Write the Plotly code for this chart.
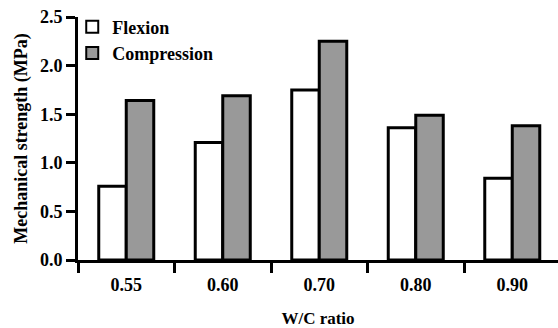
import plotly.graph_objects as go

categories = ["0.55", "0.60", "0.70", "0.80", "0.90"]
flexion = [0.76, 1.21, 1.75, 1.36, 0.84]
compression = [1.64, 1.69, 2.25, 1.49, 1.38]
y_ticks = [0.0, 0.5, 1.0, 1.5, 2.0, 2.5]
y_tick_labels = ["0.0", "0.5", "1.0", "1.5", "2.0", "2.5"]

FONT = "Liberation Serif"

fig = go.Figure()
fig.add_trace(go.Bar(
    x=categories, y=flexion, name="<b>Flexion</b>",
    marker=dict(color="white", line=dict(color="black", width=3)),
))
fig.add_trace(go.Bar(
    x=categories, y=compression, name="<b>Compression</b>",
    marker=dict(color="#999999", line=dict(color="black", width=3)),
))

fig.update_layout(
    width=558, height=328,
    margin=dict(l=78, r=0, t=17, b=68),
    paper_bgcolor="white", plot_bgcolor="white",
    barmode="group", bargap=0.43, bargroupgap=0,
    font=dict(family=FONT, size=16, color="black"),
    showlegend=True,
    legend=dict(
        x=-0.012, y=1.035, xanchor="left", yanchor="top",
        bgcolor="rgba(0,0,0,0)",
        font=dict(family=FONT, size=18, color="black"),
        tracegroupgap=0, itemsizing="constant",
    ),
    xaxis=dict(
        type="category", range=[-0.5, 4.474],
        tickvals=categories, ticktext=["<b>%s</b>" % c for c in categories],
        showline=True, linecolor="black", linewidth=3,
        ticks="outside", tickson="boundaries", ticklen=10, tickwidth=3, tickcolor="black",
        ticklabelstandoff=6,
        showgrid=False, zeroline=False,
        tickfont=dict(family=FONT, size=18, color="black"),
        title=dict(text="<b>W/C ratio</b>", font=dict(family=FONT, size=17, color="black"), standoff=20),
    ),
    yaxis=dict(
        range=[0, 2.5], tickvals=y_ticks, ticktext=["<b>%s</b>" % t for t in y_tick_labels],
        showline=True, linecolor="black", linewidth=3,
        ticks="outside", ticklen=9, tickwidth=3, tickcolor="black",
        showgrid=False, zeroline=False,
        tickfont=dict(family=FONT, size=18, color="black"),
        title=dict(text="<b>Mechanical strength (MPa)</b>", font=dict(family=FONT, size=18, color="black"), standoff=8),
    ),
)

fig.write_html("out.html", post_script="document.body.style.margin='0';",
               config={"displayModeBar": False})
